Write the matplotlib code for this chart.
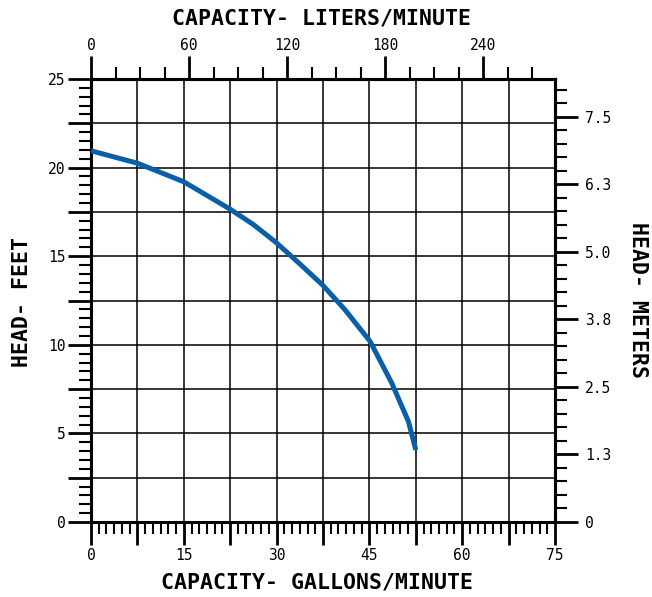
import matplotlib
matplotlib.use("Agg")
import matplotlib.pyplot as plt
from matplotlib.ticker import MultipleLocator, FuncFormatter, FixedLocator

# pump curve (gallons/minute vs head in feet)
gpm = [0, 7.5, 15, 18.4, 22.5, 26.2, 30, 33.8, 37.5, 41, 45.1, 48.6, 51.3, 52.5]
head_ft = [20.95, 20.25, 19.2, 18.5, 17.65, 16.8, 15.75, 14.55, 13.35, 12.0, 10.2, 7.85, 5.68, 4.07]

liter_ticks = [0, 60, 120, 180, 240]
meter_ticks = [0, 1.25, 2.5, 3.75, 5.0, 6.25, 7.5]
meter_labels = ["0", "1.3", "2.5", "3.8", "5.0", "6.3", "7.5"]

GAL_TO_L = 3.785
FT_PER_M = 3.048

mono = "DejaVu Sans Mono"
title_kw = dict(family=mono, fontsize=15.5, fontweight="bold")
tick_fs = 10.5

fig = plt.figure(figsize=(6.52, 5.97), dpi=100)
ax = fig.add_axes([91 / 652, 75 / 597, 464 / 652, 443 / 597])

ax.plot(gpm, head_ft, color="#0b5fa6", lw=3.6, solid_capstyle="butt",
        solid_joinstyle="round", zorder=5)

ax.set_xlim(0, 75)
ax.set_ylim(0, 25)

ax.xaxis.set_major_locator(MultipleLocator(7.5))
ax.xaxis.set_minor_locator(MultipleLocator(1.25))
ax.yaxis.set_major_locator(MultipleLocator(2.5))
ax.yaxis.set_minor_locator(MultipleLocator(0.5))

# labels only on every other major tick
ax.xaxis.set_major_formatter(FuncFormatter(lambda v, p: "%d" % round(v) if abs(v % 15) < 1e-6 else ""))
ax.yaxis.set_major_formatter(FuncFormatter(lambda v, p: "%d" % round(v) if abs(v % 5) < 1e-6 else ""))

ax.tick_params(which="major", direction="out", length=16.5, width=2.0,
               labelsize=tick_fs, pad=2)
ax.tick_params(which="minor", direction="out", length=8.5, width=1.5)
for lab in ax.get_xticklabels() + ax.get_yticklabels():
    lab.set_family(mono)

ax.grid(True, which="major", color="black", lw=1.1)
for sp in ax.spines.values():
    sp.set_linewidth(2.2)

# top: liters/minute
top = ax.secondary_xaxis("top", functions=(lambda g: g * GAL_TO_L, lambda l: l / GAL_TO_L))
top.xaxis.set_major_locator(FixedLocator(liter_ticks))
top.xaxis.set_minor_locator(MultipleLocator(15))
top.tick_params(which="major", direction="out", length=16.5, width=2.0,
                labelsize=tick_fs, pad=2)
top.tick_params(which="minor", direction="out", length=8.5, width=1.5)
top.spines["top"].set_linewidth(2.2)
for lab in top.get_xticklabels():
    lab.set_family(mono)

# right: meters
right = ax.secondary_yaxis("right", functions=(lambda f: f / FT_PER_M, lambda m: m * FT_PER_M))
right.yaxis.set_major_locator(FixedLocator(meter_ticks))
right.set_yticklabels(meter_labels, family=mono, fontsize=tick_fs)
right.yaxis.set_minor_locator(MultipleLocator(0.25))
right.tick_params(which="major", direction="out", length=16.5, width=2.0,
                  labelsize=tick_fs, pad=5)
right.tick_params(which="minor", direction="out", length=8.5, width=1.5)
right.spines["right"].set_linewidth(2.2)

fig.text(321 / 652, 1 - 18 / 597, "CAPACITY- LITERS/MINUTE", ha="center", va="center", **title_kw)
fig.text(317 / 652, 1 - 583 / 597, "CAPACITY- GALLONS/MINUTE", ha="center", va="center", **title_kw)
fig.text(22 / 652, 1 - 302 / 597, "HEAD- FEET", ha="center", va="center", rotation=90, **title_kw)
fig.text(638 / 652, 1 - 300 / 597, "HEAD- METERS", ha="center", va="center", rotation=-90, **title_kw)

fig.savefig("out.png", dpi=100)
